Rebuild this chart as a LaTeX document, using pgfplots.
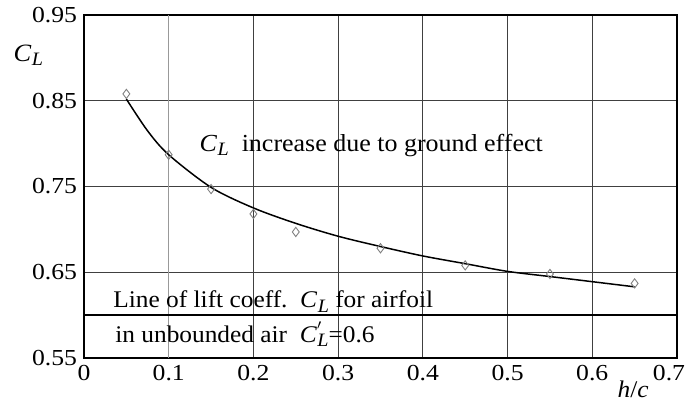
\documentclass[border=0pt]{standalone}
\usepackage{fontspec}
\setmainfont{Liberation Serif}
\usepackage{pgfplots}
\pgfplotsset{compat=1.18}
\newcommand{\sub}[1]{\raisebox{-0.4ex}{\textit{\fontsize{9.5}{10}\selectfont #1}}}
\newcommand{\CL}{\textit{C}\kern0.02em\sub{L}}
\newcommand{\CLp}{\textit{C}\makebox[0pt][l]{\raisebox{0.5ex}{\fontsize{10}{10}\selectfont$'$}}\kern0.02em\sub{L}}
\newfontfamily\txtfont[FakeStretch=1.06]{Liberation Serif}
\begin{document}
\begin{tikzpicture}
\useasboundingbox (-42bp,-22.5bp) rectangle (302bp,179bp);
\begin{axis}[name=ax, anchor=south west, at={(0,0)}, scale only axis, width=296.5bp, height=171.5bp,
  xmin=0, xmax=0.7, ymin=0.55, ymax=0.95,
  xtick={0,0.2,0.3,0.4,0.5,0.6,0.7},
  xticklabels={0,0.2,0.3,0.4,0.5,0.6,\makebox[0pt]{\kern-8bp 0.7}},
  extra x ticks={0.1}, extra x tick labels={0.1},
  extra x tick style={grid style={black!40, line width=0.5pt}},
  ytick={0.55,0.65,0.75,0.85,0.95},
  yticklabels={0.55,0.65,0.75,0.85,0.95},
  grid=major, grid style={black!75, line width=0.45pt},
  major tick length=0pt,
  axis line style={line width=1.1pt},
  tick label style={font=\addfontfeatures{FakeStretch=1.12}\fontsize{11.5}{12}\selectfont},
  clip=false,
]
\addplot[black, line width=1pt] coordinates {(0,0.6) (0.7,0.6)};
\addplot[smooth, black, line width=0.75pt] coordinates {
(0.05,0.852) (0.075,0.815) (0.1,0.787) (0.15,0.749) (0.2,0.725) (0.25,0.707)
(0.3,0.692) (0.35,0.680) (0.4,0.669) (0.45,0.660) (0.5,0.651) (0.55,0.645)
(0.6,0.639) (0.65,0.633)};
\addplot[only marks, mark=diamond, mark size=2.3bp, black!50, mark options={line width=0.45pt}] coordinates {
(0.05,0.858) (0.1,0.787) (0.15,0.747) (0.2,0.718) (0.25,0.697) (0.35,0.678)
(0.45,0.658) (0.55,0.648) (0.65,0.637)};
\node[anchor=center, font=\txtfont\fontsize{12.3}{14}\selectfont] at (axis cs:0.339,0.798) {\CL\ \ increase due to ground effect};
\node[anchor=west, inner sep=0pt, font=\txtfont\fontsize{12}{14}\selectfont] at (axis cs:0.0343,0.616) {Line of lift coeff.\ \ \CL\ for airfoil};
\node[anchor=west, inner sep=0pt, font=\txtfont\fontsize{12}{14}\selectfont] at (axis cs:0.0366,0.578) {in unbounded air\ \ \CLp=0.6};
\node[font=\txtfont\fontsize{12.5}{14}\selectfont] at (axis description cs:-0.094,0.883) {\CL};
\node[anchor=base, inner sep=0pt, font=\txtfont\fontsize{12}{14}\selectfont] at (axis description cs:0.926,-0.116) {\textit{h}/\textit{c}};
\end{axis}
\end{tikzpicture}
\end{document}
